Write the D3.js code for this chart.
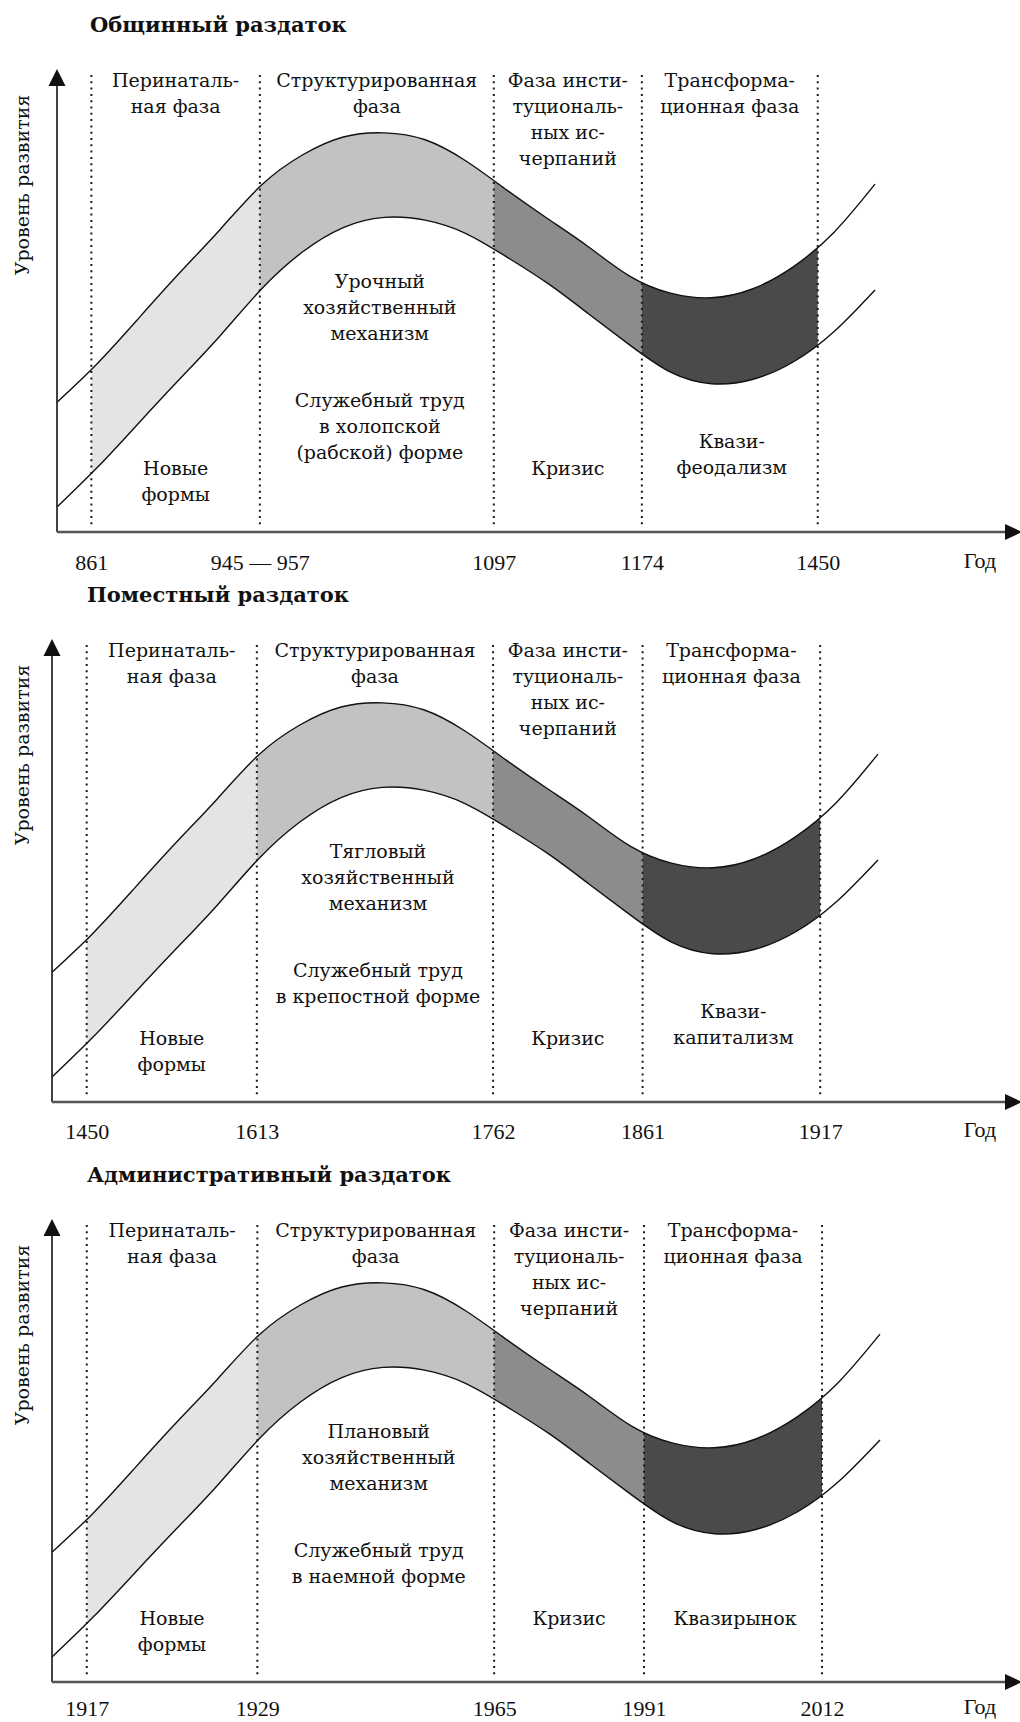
<!DOCTYPE html>
<html><head><meta charset="utf-8">
<script src="https://cdn.jsdelivr.net/npm/d3@7"></script>
<style>body{margin:0;background:#fff} svg{display:block}</style>
</head><body>
<svg id="chart" width="1020" height="1722"></svg>
<script>
// ---------- data ----------
const panelTitles = ["Общинный раздаток", "Поместный раздаток", "Административный раздаток"];
const tickLabels = [
  ["861", "945 — 957", "1097", "1174", "1450"],
  ["1450", "1613", "1762", "1861", "1917"],
  ["1917", "1929", "1965", "1991", "2012"]
];
const xAxisTitle = "Год";
const yAxisTitle = "Уровень развития";
// phase boundaries on the conceptual time axis (0..100)
const boundaries = [4.2, 24.8, 53.4, 71.5, 93.0];
const phaseHeaders = [
  ["Перинаталь-", "ная фаза"],
  ["Структурированная", "фаза"],
  ["Фаза инсти-", "туциональ-", "ных ис-", "черпаний"],
  ["Трансформа-", "ционная фаза"]
];
const mechanisms = [
  ["Урочный", "хозяйственный", "механизм"],
  ["Тягловый", "хозяйственный", "механизм"],
  ["Плановый", "хозяйственный", "механизм"]
];
const labourForms = [
  ["Служебный труд", "в холопской", "(рабской) форме"],
  ["Служебный труд", "в крепостной форме"],
  ["Служебный труд", "в наемной форме"]
];
const newForms = ["Новые", "формы"];
const crisis = ["Кризис"];
const quasi = [["Квази-", "феодализм"], ["Квази-", "капитализм"], ["Квазирынок"]];
// development curve (conceptual time vs level, 0..100)
const timeT      = [0, 5, 10, 15, 20, 25, 30, 35, 40, 45, 50, 55, 60, 65, 70, 75, 80, 85, 90, 95, 100];
const upperLevel = [28.1, 36.6, 46.3, 56.1, 65.6, 75.1, 81.6, 85.5, 86.4, 84.9, 80.3, 74.0, 67.8, 61.7, 55.4, 51.7, 50.7, 52.6, 57.4, 64.9, 75.3];
const lowerLevel = [5.4, 14.1, 23.6, 33.1, 42.6, 52.6, 60.6, 65.9, 68.1, 67.5, 64.6, 59.5, 53.8, 47.2, 40.5, 34.6, 32.1, 33.0, 36.8, 43.4, 52.4];
const phaseFills = ["#e4e4e4", "#c2c2c2", "#8c8c8c", "#4a4a4a"];

// ---------- layout ----------
const axisYs = [532, 1102, 1682];
const axisXs = [57, 52, 52];
const curveEnds = [875, 878, 880];
const titleXs = [90, 87, 87];
const tickOffsets = [38, 37, 34];
const SERIF = "'DejaVu Serif', 'Liberation Serif', serif";
const NUMF = "'Liberation Serif', 'DejaVu Serif', serif";

const svg = d3.select("#chart");
const pts = timeT.map((t, i) => ({t, hi: upperLevel[i], lo: lowerLevel[i]}));
const defs = svg.append("defs");

panelTitles.forEach((title, p) => {
  const ay = axisYs[p], ax = axisXs[p];
  const x = d3.scaleLinear().domain([0, 100]).range([ax, curveEnds[p]]);
  const y = d3.scaleLinear().domain([0, 100]).range([ay, ay - 462]);
  const g = svg.append("g");

  // title
  g.append("text").attr("x", titleXs[p]).attr("y", ay - 500)
    .attr("font-family", SERIF).attr("font-weight", "bold").attr("font-size", 21)
    .attr("fill", "#111").text(title);

  // clip paths per phase
  for (let i = 0; i < boundaries.length - 1; i++) {
    defs.append("clipPath").attr("id", `clip-${p}-${i}`)
      .append("rect").attr("x", x(boundaries[i])).attr("y", ay - 470)
      .attr("width", x(boundaries[i + 1]) - x(boundaries[i])).attr("height", 470);
  }
  const curve = d3.curveNatural;
  const area = d3.area().x(d => x(d.t)).y0(d => y(d.lo)).y1(d => y(d.hi)).curve(curve);
  for (let i = 0; i < boundaries.length - 1; i++) {
    g.append("path").datum(pts).attr("d", area).attr("fill", phaseFills[i])
      .attr("clip-path", `url(#clip-${p}-${i})`);
  }
  const lineHi = d3.line().x(d => x(d.t)).y(d => y(d.hi)).curve(curve);
  const lineLo = d3.line().x(d => x(d.t)).y(d => y(d.lo)).curve(curve);
  g.append("path").datum(pts).attr("d", lineHi).attr("fill", "none").attr("stroke", "#111").attr("stroke-width", 1.4);
  g.append("path").datum(pts).attr("d", lineLo).attr("fill", "none").attr("stroke", "#111").attr("stroke-width", 1.4);

  // dotted phase boundaries
  g.selectAll("line.b").data(boundaries).join("line")
    .attr("x1", d => x(d)).attr("x2", d => x(d))
    .attr("y1", ay - 457).attr("y2", ay - 6)
    .attr("stroke", "#1a1a1a").attr("stroke-width", 2).attr("stroke-dasharray", "2,4.3");

  // axes lines and arrows
  g.append("line").attr("x1", ax).attr("x2", ax).attr("y1", ay).attr("y2", ay - 448)
    .attr("stroke", "#222").attr("stroke-width", 1.7);
  g.append("path").attr("d", `M${ax - 8.5},${ay - 446} L${ax + 8.5},${ay - 446} L${ax},${ay - 463} Z`).attr("fill", "#111");
  g.append("line").attr("x1", ax).attr("x2", 1008).attr("y1", ay).attr("y2", ay)
    .attr("stroke", "#555").attr("stroke-width", 2.4);
  g.append("path").attr("d", `M1005,${ay - 8} L1005,${ay + 8} L1022,${ay} Z`).attr("fill", "#111");

  // x axis tick labels via d3 axis
  const axis = d3.axisBottom(x).tickValues(boundaries).tickSize(0)
    .tickFormat((d, i) => tickLabels[p][i]);
  const axG = g.append("g").attr("transform", `translate(0,${ay})`).call(axis);
  axG.select(".domain").remove();
  axG.selectAll("text").attr("y", tickOffsets[p]).attr("dy", null)
    .attr("font-family", NUMF).attr("font-size", 22).attr("fill", "#111");
  g.append("text").attr("x", 980).attr("y", ay + tickOffsets[p] - 2).attr("text-anchor", "middle")
    .attr("font-family", NUMF).attr("font-size", 22).attr("fill", "#111").text(xAxisTitle);

  // y axis title
  g.append("text").attr("transform", `translate(29,${ay - 347}) rotate(-90)`)
    .attr("text-anchor", "middle").attr("font-family", SERIF).attr("font-size", 19)
    .attr("fill", "#111").text(yAxisTitle);

  // text helper
  const block = (lines, cx, firstBaseline) => {
    const t = g.append("text").attr("font-family", SERIF).attr("font-size", 19)
      .attr("fill", "#111").attr("text-anchor", "middle");
    lines.forEach((s, k) => t.append("tspan").attr("x", cx).attr("y", firstBaseline + k * 26).text(s));
  };
  const mid = i => (x(boundaries[i]) + x(boundaries[i + 1])) / 2;

  phaseHeaders.forEach((lines, i) => block(lines, mid(i), ay - 445));
  block(mechanisms[p], mid(1) + 3, ay - 244);
  block(labourForms[p], mid(1) + 3, ay - 125);
  block(newForms, mid(0), ay - 57);
  block(crisis, mid(2), ay - 57);
  const q = quasi[p];
  block(q, mid(3) + 2, ay - 57 - (q.length - 1) * 27);
});
</script>
</body></html>
